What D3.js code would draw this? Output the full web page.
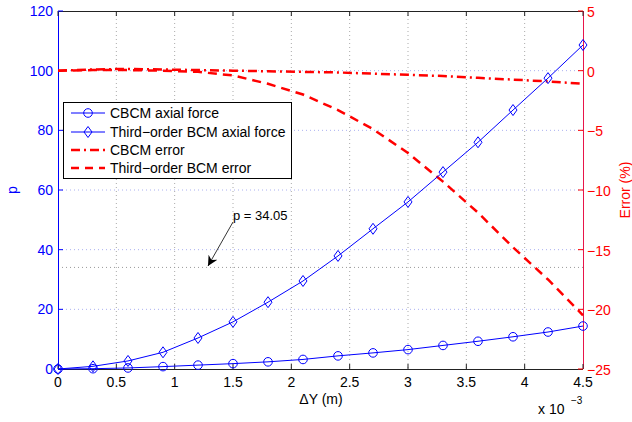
<!DOCTYPE html>
<html><head><meta charset="utf-8">
<script src="https://cdn.jsdelivr.net/npm/d3@7"></script>
<style>body{margin:0;background:#fff}svg{display:block;font-family:"Liberation Sans",Arial,sans-serif}</style>
</head><body><svg id="c" width="632" height="422"></svg>
<script>
const dy = [0,0.3,0.6,0.9,1.2,1.5,1.8,2.1,2.4,2.7,3.0,3.3,3.6,3.9,4.2,4.5];
const cbcmForce = [0,0.1,0.35,0.8,1.3,1.8,2.4,3.2,4.4,5.4,6.5,7.9,9.3,10.8,12.4,14.4];
const bcmForce = [0,0.9,2.7,5.6,10.4,15.8,22.4,29.5,37.9,47,56,66,76,86.8,97.5,108.6];
const cbcmError = [0,0.1,0.15,0.1,0.05,0,-0.05,-0.1,-0.15,-0.25,-0.35,-0.45,-0.6,-0.75,-0.9,-1.1];
const bcmError = [0,0.05,0.05,0,-0.1,-0.4,-1.1,-2.0,-3.3,-4.9,-6.9,-9.3,-11.9,-14.8,-17.5,-20.5];
const xTicks = [0,0.5,1,1.5,2,2.5,3,3.5,4,4.5];
const yLeftTicks = [0,20,40,60,80,100,120];
const yRightTicks = [-25,-20,-15,-10,-5,0,5];
const legendLabels = ["CBCM axial force","Third\u2212order BCM axial force","CBCM error","Third\u2212order BCM error"];
const pMark = 34.05;

const svg = d3.select("#c");
const L=58,R=583,T=11,B=369;
const x = d3.scaleLinear().domain([0,4.5]).range([L,R]);
const yl = d3.scaleLinear().domain([0,120]).range([B,T]);
const yr = d3.scaleLinear().domain([-25,5]).range([B,T]);
const fmt = v => (v<0?"\u2212":"")+Math.abs(v);

// grid
const g = svg.append("g");
xTicks.slice(1,-1).forEach(v=>g.append("line").attr("x1",x(v)).attr("x2",x(v)).attr("y1",T).attr("y2",B)
  .attr("stroke","#aaa").attr("stroke-width",1).attr("stroke-dasharray","1,3"));
yLeftTicks.slice(1,-1).forEach(v=>g.append("line").attr("x1",L).attr("x2",R).attr("y1",yl(v)).attr("y2",yl(v))
  .attr("stroke","#aab0f0").attr("stroke-width",1).attr("stroke-dasharray","1,3"));
g.append("line").attr("x1",L).attr("x2",R).attr("y1",yl(pMark)).attr("y2",yl(pMark))
  .attr("stroke","#999").attr("stroke-width",1).attr("stroke-dasharray","1,3");

// box lines
svg.append("line").attr("x1",L).attr("x2",R).attr("y1",T+0.5).attr("y2",T+0.5).attr("stroke","#222");
svg.append("line").attr("x1",L).attr("x2",R).attr("y1",B+0.5).attr("y2",B+0.5).attr("stroke","#222");
svg.append("line").attr("x1",L+0.5).attr("x2",L+0.5).attr("y1",T).attr("y2",B).attr("stroke","#0000ff");
svg.append("line").attr("x1",R+0.5).attr("x2",R+0.5).attr("y1",T).attr("y2",B).attr("stroke","#e8154a");

// x ticks
xTicks.forEach(v=>{
  svg.append("line").attr("x1",x(v)).attr("x2",x(v)).attr("y1",B).attr("y2",B-5).attr("stroke","#222");
  svg.append("line").attr("x1",x(v)).attr("x2",x(v)).attr("y1",T).attr("y2",T+5).attr("stroke","#222");
  svg.append("text").attr("x",x(v)).attr("y",387).attr("text-anchor","middle").attr("font-size",14).attr("fill","#000").text(v);
});
yLeftTicks.forEach(v=>{
  svg.append("line").attr("x1",L).attr("x2",L+5).attr("y1",yl(v)).attr("y2",yl(v)).attr("stroke","#0000ff");
  svg.append("text").attr("x",53).attr("y",yl(v)+5).attr("text-anchor","end").attr("font-size",14).attr("fill","#0000ff").text(v);
});
yRightTicks.forEach(v=>{
  svg.append("line").attr("x1",R).attr("x2",R-5).attr("y1",yr(v)).attr("y2",yr(v)).attr("stroke","#ff0000");
  svg.append("text").attr("x",587).attr("y",yr(v)+6).attr("text-anchor","start").attr("font-size",14).attr("fill","#ff0000").text(fmt(v));
});

// axis labels
svg.append("text").attr("transform","translate(17,190) rotate(-90)").attr("text-anchor","middle").attr("font-size",14).attr("fill","#0000ff").text("p");
svg.append("text").attr("transform","translate(630,190) rotate(-90)").attr("text-anchor","middle").attr("font-size",14).attr("fill","#ff0000").text("Error (%)");
svg.append("text").attr("x",321).attr("y",404).attr("text-anchor","middle").attr("font-size",14).attr("fill","#000").text("\u0394Y (m)");
svg.append("text").attr("x",538).attr("y",414).attr("font-size",14).attr("fill","#000").text("x 10");
svg.append("text").attr("x",571).attr("y",404).attr("font-size",10).attr("fill","#000").text("\u22123");

// data lines
const lineF = d3.line().x((d,i)=>x(dy[i]));
const pathL = arr => lineF.y(d=>yl(d))(arr);
const pathR = arr => lineF.y(d=>yr(d))(arr);
svg.append("path").attr("d",pathR(cbcmError)).attr("fill","none").attr("stroke","#ff0000").attr("stroke-width",2.5).attr("stroke-dasharray","9,4,2,4");
svg.append("path").attr("d",pathR(bcmError)).attr("fill","none").attr("stroke","#ff0000").attr("stroke-width",2.5).attr("stroke-dasharray","9,6");
svg.append("path").attr("d",pathL(cbcmForce)).attr("fill","none").attr("stroke","#0000ff").attr("stroke-width",1);
svg.append("path").attr("d",pathL(bcmForce)).attr("fill","none").attr("stroke","#0000ff").attr("stroke-width",1);
const circ = (sel,cx,cy)=>sel.append("circle").attr("cx",cx).attr("cy",cy).attr("r",4.3).attr("fill","none").attr("stroke","#0000ff").attr("stroke-width",1);
const diam = (sel,cx,cy)=>sel.append("path").attr("d",`M${cx},${cy-5.5}L${cx+4},${cy}L${cx},${cy+5.5}L${cx-4},${cy}Z`).attr("fill","none").attr("stroke","#0000ff").attr("stroke-width",1);
cbcmForce.forEach((v,i)=>circ(svg,x(dy[i]),yl(v)));
bcmForce.forEach((v,i)=>diam(svg,x(dy[i]),yl(v)));

// annotation
svg.append("defs").append("marker").attr("id","ah").attr("viewBox","0 0 10 10").attr("refX",10).attr("refY",5)
  .attr("markerWidth",12).attr("markerHeight",10).attr("markerUnits","userSpaceOnUse").attr("orient","auto")
  .append("path").attr("d","M0,0L10,5L0,10L3,5Z").attr("fill","#000");
svg.append("line").attr("x1",233).attr("y1",222).attr("x2",208).attr("y2",266).attr("stroke","#000").attr("stroke-width",0.8).attr("marker-end","url(#ah)");
svg.append("text").attr("x",233).attr("y",220).attr("font-size",13).attr("fill","#000").text("p = 34.05");

// legend
const lg = svg.append("g");
lg.append("rect").attr("x",63.5).attr("y",102.5).attr("width",228).attr("height",76).attr("fill","#fff").attr("stroke","#000").attr("stroke-width",1);
const rows=[113,132,150,168];
const styles=[
  {c:"#0000ff",w:1,d:null,m:"c"},
  {c:"#0000ff",w:1,d:null,m:"d"},
  {c:"#ff0000",w:2.5,d:"9,4,2,4",m:null},
  {c:"#ff0000",w:2.5,d:"8,6",m:null}];
legendLabels.forEach((t,i)=>{
  const s=styles[i];
  const ln=lg.append("line").attr("x1",71).attr("x2",105).attr("y1",rows[i]).attr("y2",rows[i]).attr("stroke",s.c).attr("stroke-width",s.w);
  if(s.d) ln.attr("stroke-dasharray",s.d);
  if(s.m==="c") circ(lg,88,rows[i]);
  if(s.m==="d") diam(lg,88,rows[i]);
  lg.append("text").attr("x",110).attr("y",rows[i]+5).attr("font-size",14).attr("fill","#000").text(t);
});
</script></body></html>
